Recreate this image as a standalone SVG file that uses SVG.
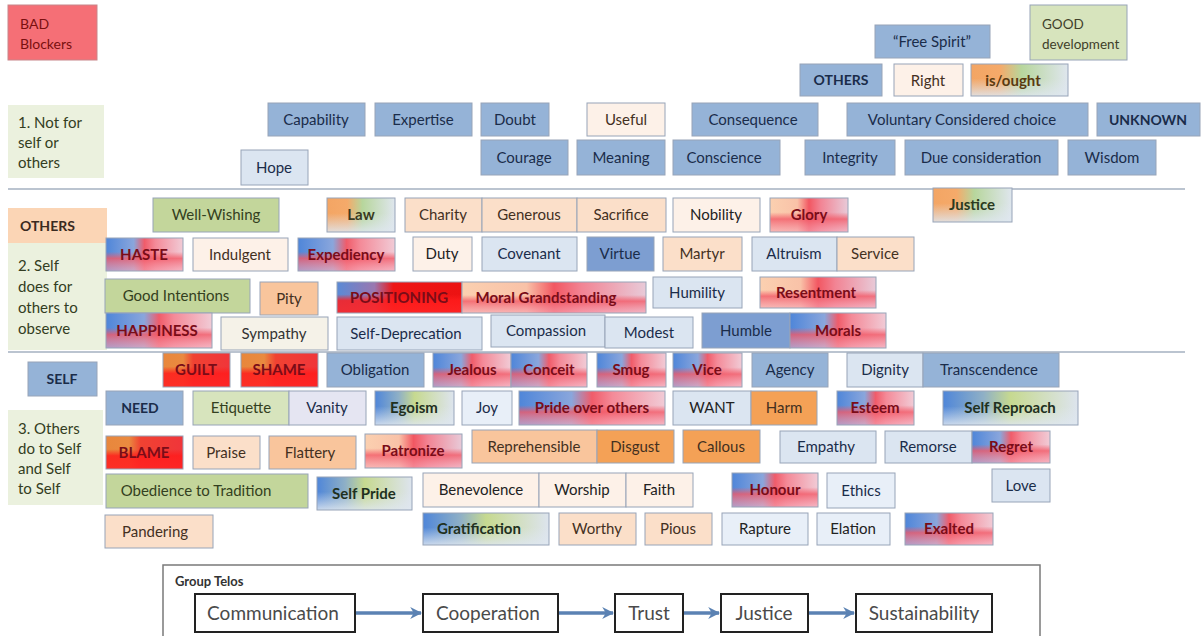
<svg xmlns="http://www.w3.org/2000/svg" width="1202" height="636" viewBox="0 0 1202 636">
<defs>
<style>
.n{stroke:#97a4b8;stroke-width:1}
.o{stroke:#97a4b8;stroke-width:1}
.t{font-family:Lato,"Liberation Sans",sans-serif;font-size:15px;text-anchor:middle;fill:#1a2c4a}
.tl{text-anchor:start}
.tb{font-weight:bold;fill:#7a0c18}
.tk{font-weight:bold}
.tp{fill:#43301f}
.blue{fill:#95b3d7}
.mblue{fill:#7d9ed1}
.lblue{fill:#dbe5f1}
.vlblue{fill:#e8eff8}
.peach{fill:#fbdfc9}
.lpeach{fill:#fdf1e8}
.mpeach{fill:#f9c59c}
.orange{fill:#f4a156}
.green{fill:#c3d69b}
.lgreen{fill:#d7e4bd}
.lbl{fill:#ebf1de;stroke:none}
.lav{fill:#e5e5f2}
.cream{fill:#f5f2e8}
.sep{stroke:#a5b0c0;stroke-width:1.5}
.tbox{fill:#ffffff;stroke:#222222;stroke-width:2}
.tt{font-family:Lato,"Liberation Sans",sans-serif;font-size:19px;text-anchor:middle;fill:#4a4a4a}
.arr{stroke:#5b82b3;stroke-width:3.5;fill:none}
</style>
<linearGradient id="gBR" x1="0" y1="0" x2="1" y2="0">
<stop offset="0" stop-color="#4f86d9"/><stop offset="0.36" stop-color="#8aa6dc"/><stop offset="0.5" stop-color="#f05c6a"/><stop offset="0.64" stop-color="#f48a98"/><stop offset="1" stop-color="#f1cbd6"/>
</linearGradient>
<linearGradient id="gOR" x1="0" y1="0" x2="1" y2="0">
<stop offset="0" stop-color="#e8873c"/><stop offset="0.3" stop-color="#ea8a40"/><stop offset="0.45" stop-color="#f04232"/><stop offset="1" stop-color="#f0353a"/>
</linearGradient>
<linearGradient id="gOG" x1="0" y1="0" x2="1" y2="0">
<stop offset="0" stop-color="#f3a564"/><stop offset="0.3" stop-color="#f5aa6a"/><stop offset="0.52" stop-color="#b7d69c"/><stop offset="1" stop-color="#dfe6ee"/>
</linearGradient>
<linearGradient id="gBG" x1="0" y1="0" x2="1" y2="0">
<stop offset="0" stop-color="#4f86d9"/><stop offset="0.3" stop-color="#8fb0c6"/><stop offset="0.5" stop-color="#c6d990"/><stop offset="1" stop-color="#dde4ee"/>
</linearGradient>
<linearGradient id="gPR" x1="0" y1="0" x2="1" y2="0">
<stop offset="0" stop-color="#fbd0b0"/><stop offset="0.35" stop-color="#f9c2a8"/><stop offset="0.5" stop-color="#f25762"/><stop offset="0.65" stop-color="#f28494"/><stop offset="1" stop-color="#e8cad8"/>
</linearGradient>
<linearGradient id="gPos" x1="0" y1="0" x2="1" y2="0">
<stop offset="0" stop-color="#5a8ad6"/><stop offset="0.3" stop-color="#9a78b0"/><stop offset="0.45" stop-color="#ee1616"/><stop offset="1" stop-color="#ec1212"/>
</linearGradient>
<linearGradient id="vR" x1="0" y1="0" x2="0" y2="1">
<stop offset="0" stop-color="#f25a68" stop-opacity="0"/><stop offset="0.42" stop-color="#f25a68" stop-opacity="0"/><stop offset="0.62" stop-color="#f25a68" stop-opacity="0.8"/><stop offset="1" stop-color="#f7a8b8" stop-opacity="0.6"/>
</linearGradient>
<linearGradient id="vRR" x1="0" y1="0" x2="0" y2="1">
<stop offset="0" stop-color="#ff1c1c" stop-opacity="0"/><stop offset="0.4" stop-color="#ff1c1c" stop-opacity="0"/><stop offset="0.6" stop-color="#ff1c1c" stop-opacity="0.85"/><stop offset="1" stop-color="#ff2424" stop-opacity="0.9"/>
</linearGradient>
<linearGradient id="vL" x1="0" y1="0" x2="0" y2="1">
<stop offset="0" stop-color="#dfe7f0" stop-opacity="0"/><stop offset="0.45" stop-color="#dfe7f0" stop-opacity="0"/><stop offset="1" stop-color="#dfe7f0" stop-opacity="0.85"/>
</linearGradient>
<marker id="ah" viewBox="0 0 10 10" refX="9" refY="5" markerWidth="12" markerHeight="12" markerUnits="userSpaceOnUse" orient="auto">
<path d="M0,0 L10,5 L0,10 L3,5 Z" fill="#5b82b3"/>
</marker>
</defs>
<rect x="0" y="0" width="1202" height="636" fill="#ffffff"/>

<g id="separators">
<line class="sep" x1="8" y1="189" x2="1185" y2="189"/>
<line class="sep" x1="8" y1="352" x2="1185" y2="352"/>
</g>

<!-- legend / labels -->
<g id="n-bad"><rect x="8" y="5" width="89" height="55" fill="#f56f76" stroke="#c8868a"/><text class="t tl" x="20" y="29" style="fill:#7a1010;font-size:14px">BAD</text><text class="t tl" x="20" y="49" style="fill:#7a1010;font-size:14px">Blockers</text></g>
<g id="n-good"><rect x="1030" y="5" width="97" height="55" class="lgreen n"/><text class="t tl" x="1042" y="29" style="fill:#40402a;font-size:13.5px">GOOD</text><text class="t tl" x="1042" y="49" style="fill:#40402a;font-size:13.5px">development</text></g>
<g id="n-label1"><rect x="8" y="105" width="96" height="73" class="lbl"/><text class="t tl" x="18" y="128" style="fill:#333d22">1. Not for</text><text class="t tl" x="18" y="148" style="fill:#333d22">self or</text><text class="t tl" x="18" y="168" style="fill:#333d22">others</text></g>
<g id="n-label2"><rect x="8" y="243" width="99" height="107" class="lbl"/><text class="t tl" x="18" y="271" style="fill:#333d22">2. Self</text><text class="t tl" x="18" y="292" style="fill:#333d22">does for</text><text class="t tl" x="18" y="313" style="fill:#333d22">others to</text><text class="t tl" x="18" y="334" style="fill:#333d22">observe</text></g>
<g id="n-label3"><rect x="8" y="410" width="95" height="95" class="lbl"/><text class="t tl" x="18" y="434" style="fill:#333d22">3. Others</text><text class="t tl" x="18" y="454" style="fill:#333d22">do to Self</text><text class="t tl" x="18" y="474" style="fill:#333d22">and Self</text><text class="t tl" x="18" y="494" style="fill:#333d22">to Self</text></g>
<g id="n-others-lbl"><rect x="8" y="208" width="99" height="35" fill="#fbd5b5" stroke="none"/><text class="t tl tk" x="20" y="231" style="fill:#3a2a20;font-size:14px">OTHERS</text></g>
<g id="n-self-lbl"><rect x="28" y="362" width="69" height="34" class="blue n"/><text class="t tk" x="62" y="384" style="font-size:14px">SELF</text></g>

<!-- section 1 -->
<g id="n-freespirit"><rect x="875" y="25" width="115" height="33" class="blue n"/><text class="t" x="932" y="47">“Free Spirit”</text></g>
<g id="n-others-top"><rect x="800" y="64" width="82" height="32" class="blue n"/><text class="t tk" x="841" y="85" style="font-size:14px">OTHERS</text></g>
<g id="n-right"><rect x="894" y="64" width="69" height="32" class="lpeach n"/><text class="t tp" x="928" y="86">Right</text></g>
<g id="n-isought"><rect x="971" y="64" width="97" height="32" fill="url(#gOG)"/><rect x="971" y="64" width="97" height="32" fill="url(#vL)" class="o"/><text class="t tk" x="1013" y="86" style="fill:#5a3a10">is/ought</text></g>
<g id="n-capability"><rect x="268" y="103" width="97" height="33" class="blue n"/><text class="t" x="316" y="125">Capability</text></g>
<g id="n-expertise"><rect x="375" y="103" width="97" height="33" class="blue n"/><text class="t" x="423" y="125">Expertise</text></g>
<g id="n-doubt"><rect x="481" y="103" width="68" height="33" class="blue n"/><text class="t" x="515" y="125">Doubt</text></g>
<g id="n-useful"><rect x="587" y="103" width="78" height="33" class="lpeach n"/><text class="t tp" x="626" y="125">Useful</text></g>
<g id="n-consequence"><rect x="692" y="103" width="126" height="33" class="blue n"/><text class="t" x="753" y="125">Consequence</text></g>
<g id="n-voluntary"><rect x="847" y="103" width="241" height="33" class="blue n"/><text class="t" x="962" y="125">Voluntary Considered choice</text></g>
<g id="n-unknown"><rect x="1097" y="103" width="103" height="33" class="blue n"/><text class="t tk" x="1148" y="125" style="font-size:14px">UNKNOWN</text></g>
<g id="n-hope"><rect x="241" y="150" width="67" height="35" class="lblue n"/><text class="t" x="274" y="173">Hope</text></g>
<g id="n-courage"><rect x="481" y="140" width="87" height="35" class="blue n"/><text class="t" x="524" y="163">Courage</text></g>
<g id="n-meaning"><rect x="577" y="140" width="88" height="35" class="blue n"/><text class="t" x="621" y="163">Meaning</text></g>
<g id="n-conscience"><rect x="673" y="140" width="107" height="35" class="blue n"/><text class="t" x="724" y="163">Conscience</text></g>
<g id="n-integrity"><rect x="805" y="140" width="90" height="35" class="blue n"/><text class="t" x="850" y="163">Integrity</text></g>
<g id="n-dueconsideration"><rect x="905" y="140" width="153" height="35" class="blue n"/><text class="t" x="981" y="163">Due consideration</text></g>
<g id="n-wisdom"><rect x="1068" y="140" width="88" height="35" class="blue n"/><text class="t" x="1112" y="163">Wisdom</text></g>

<!-- section 2 -->
<g id="n-justice-top"><rect x="933" y="188" width="79" height="34" fill="url(#gOG)"/><rect x="933" y="188" width="79" height="34" fill="url(#vL)" class="o"/><text class="t tk" x="972" y="210" style="fill:#2a3a20">Justice</text></g>
<g id="n-wellwishing"><rect x="153" y="198" width="126" height="34" class="green n"/><text class="t" x="216" y="220" style="fill:#334020">Well-Wishing</text></g>
<g id="n-law"><rect x="327" y="198" width="68" height="34" fill="url(#gOG)"/><rect x="327" y="198" width="68" height="34" fill="url(#vL)" class="o"/><text class="t tk" x="361" y="220" style="fill:#3a3a20">Law</text></g>
<g id="n-charity"><rect x="405" y="198" width="77" height="34" class="peach n"/><text class="t tp" x="443" y="220">Charity</text></g>
<g id="n-generous"><rect x="482" y="198" width="95" height="34" class="peach n"/><text class="t tp" x="529" y="220">Generous</text></g>
<g id="n-sacrifice"><rect x="577" y="198" width="89" height="34" class="peach n"/><text class="t tp" x="621" y="220">Sacrifice</text></g>
<g id="n-nobility"><rect x="673" y="198" width="87" height="34" class="lpeach n"/><text class="t" x="716" y="220" style="fill:#222">Nobility</text></g>
<g id="n-glory"><rect x="770" y="198" width="78" height="34" fill="url(#gPR)"/><rect x="770" y="198" width="78" height="34" fill="url(#vR)" class="o"/><text class="t tb" x="809" y="220">Glory</text></g>
<g id="n-haste"><rect x="106" y="238" width="77" height="33" fill="url(#gBR)"/><rect x="106" y="238" width="77" height="33" fill="url(#vR)" class="o"/><text class="t tb" x="144" y="260">HASTE</text></g>
<g id="n-indulgent"><rect x="193" y="238" width="95" height="33" class="lpeach n"/><text class="t tp" x="240" y="260">Indulgent</text></g>
<g id="n-expediency"><rect x="298" y="238" width="97" height="33" fill="url(#gBR)"/><rect x="298" y="238" width="97" height="33" fill="url(#vR)" class="o"/><text class="t tb" x="346" y="260">Expediency</text></g>
<g id="n-duty"><rect x="413" y="237" width="59" height="34" class="lpeach n"/><text class="t" x="442" y="259" style="fill:#222">Duty</text></g>
<g id="n-covenant"><rect x="482" y="237" width="95" height="34" class="lblue n"/><text class="t" x="529" y="259">Covenant</text></g>
<g id="n-virtue"><rect x="587" y="237" width="67" height="34" class="mblue n"/><text class="t" x="620" y="259">Virtue</text></g>
<g id="n-martyr"><rect x="663" y="237" width="79" height="34" class="peach n"/><text class="t tp" x="702" y="259">Martyr</text></g>
<g id="n-altruism"><rect x="752" y="237" width="85" height="34" class="lblue n"/><text class="t" x="794" y="259">Altruism</text></g>
<g id="n-service"><rect x="837" y="237" width="77" height="34" class="peach n"/><text class="t tp" x="875" y="259">Service</text></g>
<g id="n-goodintentions"><rect x="105" y="279" width="145" height="34" class="green n"/><text class="t" x="176" y="301" style="fill:#334020">Good Intentions</text></g>
<g id="n-pity"><rect x="260" y="282" width="58" height="33" class="mpeach n"/><text class="t tp" x="289" y="304">Pity</text></g>
<g id="n-positioning"><rect x="337" y="282" width="125" height="31" fill="url(#gPos)"/><rect x="337" y="282" width="125" height="31" fill="url(#vRR)" class="o"/><text class="t tb" x="399" y="303">POSITIONING</text></g>
<g id="n-moralgrandstanding"><rect x="462" y="282" width="184" height="31" fill="url(#gPR)"/><rect x="462" y="282" width="184" height="31" fill="url(#vR)" class="o"/><text class="t tb" x="546" y="303">Moral Grandstanding</text></g>
<g id="n-humility"><rect x="653" y="277" width="89" height="31" class="lblue n"/><text class="t" x="697" y="298">Humility</text></g>
<g id="n-resentment"><rect x="760" y="277" width="116" height="31" fill="url(#gPR)"/><rect x="760" y="277" width="116" height="31" fill="url(#vR)" class="o"/><text class="t tb" x="816" y="298">Resentment</text></g>
<g id="n-happiness"><rect x="106" y="313" width="106" height="35" fill="url(#gBR)"/><rect x="106" y="313" width="106" height="35" fill="url(#vR)" class="o"/><text class="t tb" x="157" y="336">HAPPINESS</text></g>
<g id="n-sympathy"><rect x="221" y="317" width="107" height="33" class="cream n"/><text class="t" x="274" y="339" style="fill:#333">Sympathy</text></g>
<g id="n-selfdeprecation"><rect x="337" y="317" width="145" height="33" class="lblue n"/><text class="t" x="406" y="339">Self-Deprecation</text></g>
<g id="n-compassion"><rect x="491" y="315" width="114" height="32" class="lblue n"/><text class="t" x="546" y="336">Compassion</text></g>
<g id="n-modest"><rect x="605" y="317" width="88" height="31" class="lblue n"/><text class="t" x="649" y="338">Modest</text></g>
<g id="n-humble"><rect x="702" y="313" width="88" height="35" class="mblue n"/><text class="t" x="746" y="336">Humble</text></g>
<g id="n-morals"><rect x="790" y="313" width="96" height="35" fill="url(#gBR)"/><rect x="790" y="313" width="96" height="35" fill="url(#vR)" class="o"/><text class="t tb" x="838" y="336">Morals</text></g>

<!-- section 3 -->
<g id="n-guilt"><rect x="163" y="353" width="67" height="34" fill="url(#gOR)"/><rect x="163" y="353" width="67" height="34" fill="url(#vRR)" class="o"/><text class="t tb" x="196" y="375">GUILT</text></g>
<g id="n-shame"><rect x="241" y="353" width="77" height="34" fill="url(#gOR)"/><rect x="241" y="353" width="77" height="34" fill="url(#vRR)" class="o"/><text class="t tb" x="279" y="375">SHAME</text></g>
<g id="n-obligation"><rect x="327" y="353" width="97" height="34" class="blue n"/><text class="t" x="375" y="375">Obligation</text></g>
<g id="n-jealous"><rect x="433" y="353" width="78" height="34" fill="url(#gBR)"/><rect x="433" y="353" width="78" height="34" fill="url(#vR)" class="o"/><text class="t tb" x="472" y="375">Jealous</text></g>
<g id="n-conceit"><rect x="511" y="353" width="76" height="34" fill="url(#gBR)"/><rect x="511" y="353" width="76" height="34" fill="url(#vR)" class="o"/><text class="t tb" x="549" y="375">Conceit</text></g>
<g id="n-smug"><rect x="597" y="353" width="69" height="34" fill="url(#gBR)"/><rect x="597" y="353" width="69" height="34" fill="url(#vR)" class="o"/><text class="t tb" x="631" y="375">Smug</text></g>
<g id="n-vice"><rect x="673" y="353" width="69" height="34" fill="url(#gBR)"/><rect x="673" y="353" width="69" height="34" fill="url(#vR)" class="o"/><text class="t tb" x="707" y="375">Vice</text></g>
<g id="n-agency"><rect x="752" y="353" width="76" height="34" class="blue n"/><text class="t" x="790" y="375">Agency</text></g>
<g id="n-dignity"><rect x="847" y="353" width="76" height="34" class="lblue n"/><text class="t" x="885" y="375">Dignity</text></g>
<g id="n-transcendence"><rect x="923" y="353" width="136" height="34" class="blue n"/><text class="t" x="989" y="375">Transcendence</text></g>
<g id="n-need"><rect x="106" y="391" width="77" height="34" class="blue n"/><text class="t tk" x="140" y="413" style="font-size:14px">NEED</text></g>
<g id="n-etiquette"><rect x="193" y="391" width="96" height="34" class="lgreen n"/><text class="t" x="241" y="413" style="fill:#334020">Etiquette</text></g>
<g id="n-vanity"><rect x="289" y="391" width="77" height="34" class="lav n"/><text class="t" x="327" y="413">Vanity</text></g>
<g id="n-egoism"><rect x="375" y="391" width="79" height="34" fill="url(#gBG)"/><rect x="375" y="391" width="79" height="34" fill="url(#vL)" class="o"/><text class="t tk" x="414" y="413" style="fill:#1f3020">Egoism</text></g>
<g id="n-joy"><rect x="462" y="391" width="50" height="34" class="vlblue n"/><text class="t" x="487" y="413">Joy</text></g>
<g id="n-prideoverothers"><rect x="519" y="391" width="146" height="34" fill="url(#gBR)"/><rect x="519" y="391" width="146" height="34" fill="url(#vR)" class="o"/><text class="t tb" x="592" y="413">Pride over others</text></g>
<g id="n-want"><rect x="673" y="391" width="78" height="34" class="lblue n"/><text class="t" x="712" y="413" style="fill:#222">WANT</text></g>
<g id="n-harm"><rect x="751" y="391" width="66" height="34" class="orange n"/><text class="t tp" x="784" y="413">Harm</text></g>
<g id="n-esteem"><rect x="837" y="391" width="77" height="34" fill="url(#gBR)"/><rect x="837" y="391" width="77" height="34" fill="url(#vR)" class="o"/><text class="t tb" x="875" y="413">Esteem</text></g>
<g id="n-selfreproach"><rect x="943" y="391" width="135" height="34" fill="url(#gBG)"/><rect x="943" y="391" width="135" height="34" fill="url(#vL)" class="o"/><text class="t tk" x="1010" y="413" style="fill:#1f3020">Self Reproach</text></g>
<g id="n-blame"><rect x="106" y="436" width="77" height="33" fill="url(#gOR)"/><rect x="106" y="436" width="77" height="33" fill="url(#vRR)" class="o"/><text class="t tb" x="144" y="458">BLAME</text></g>
<g id="n-praise"><rect x="193" y="436" width="67" height="33" class="peach n"/><text class="t tp" x="226" y="458">Praise</text></g>
<g id="n-flattery"><rect x="269" y="436" width="87" height="33" class="mpeach n"/><text class="t tp" x="310" y="458">Flattery</text></g>
<g id="n-patronize"><rect x="365" y="434" width="97" height="34" fill="url(#gPR)"/><rect x="365" y="434" width="97" height="34" fill="url(#vR)" class="o"/><text class="t tb" x="413" y="456">Patronize</text></g>
<g id="n-reprehensible"><rect x="472" y="430" width="125" height="33" class="mpeach n"/><text class="t tp" x="534" y="452">Reprehensible</text></g>
<g id="n-disgust"><rect x="597" y="430" width="77" height="33" class="orange n"/><text class="t tp" x="635" y="452">Disgust</text></g>
<g id="n-callous"><rect x="683" y="430" width="77" height="33" class="orange n"/><text class="t tp" x="721" y="452">Callous</text></g>
<g id="n-empathy"><rect x="780" y="431" width="96" height="32" class="lblue n"/><text class="t" x="826" y="452">Empathy</text></g>
<g id="n-remorse"><rect x="885" y="431" width="87" height="32" class="lblue n"/><text class="t" x="928" y="452">Remorse</text></g>
<g id="n-regret"><rect x="972" y="431" width="78" height="32" fill="url(#gBR)"/><rect x="972" y="431" width="78" height="32" fill="url(#vR)" class="o"/><text class="t tb" x="1011" y="452">Regret</text></g>
<g id="n-obedience"><rect x="106" y="474" width="202" height="34" class="green n"/><text class="t" x="196" y="496" style="fill:#334020">Obedience to Tradition</text></g>
<g id="n-selfpride"><rect x="317" y="477" width="95" height="33" fill="url(#gBG)"/><rect x="317" y="477" width="95" height="33" fill="url(#vL)" class="o"/><text class="t tk" x="364" y="499" style="fill:#1f3020">Self Pride</text></g>
<g id="n-benevolence"><rect x="423" y="473" width="116" height="34" class="lpeach n"/><text class="t" x="481" y="495" style="fill:#222">Benevolence</text></g>
<g id="n-worship"><rect x="539" y="473" width="87" height="34" class="lpeach n"/><text class="t" x="582" y="495" style="fill:#222">Worship</text></g>
<g id="n-faith"><rect x="626" y="473" width="67" height="34" class="lpeach n"/><text class="t" x="659" y="495" style="fill:#222">Faith</text></g>
<g id="n-honour"><rect x="732" y="473" width="86" height="34" fill="url(#gBR)"/><rect x="732" y="473" width="86" height="34" fill="url(#vR)" class="o"/><text class="t tb" x="775" y="495">Honour</text></g>
<g id="n-ethics"><rect x="827" y="473" width="68" height="35" class="vlblue n"/><text class="t" x="861" y="496">Ethics</text></g>
<g id="n-love"><rect x="992" y="469" width="58" height="33" class="lblue n"/><text class="t" x="1021" y="491">Love</text></g>
<g id="n-pandering"><rect x="105" y="515" width="108" height="33" class="peach n"/><text class="t tp" x="155" y="537">Pandering</text></g>
<g id="n-gratification"><rect x="423" y="513" width="126" height="32" fill="url(#gBG)"/><rect x="423" y="513" width="126" height="32" fill="url(#vL)" class="o"/><text class="t tk" x="479" y="534" style="fill:#1f3020">Gratification</text></g>
<g id="n-worthy"><rect x="559" y="513" width="77" height="32" class="peach n"/><text class="t tp" x="597" y="534">Worthy</text></g>
<g id="n-pious"><rect x="645" y="513" width="67" height="32" class="peach n"/><text class="t tp" x="678" y="534">Pious</text></g>
<g id="n-rapture"><rect x="722" y="513" width="86" height="32" class="vlblue n"/><text class="t" x="765" y="534" style="fill:#222">Rapture</text></g>
<g id="n-elation"><rect x="817" y="513" width="73" height="32" class="vlblue n"/><text class="t" x="853" y="534" style="fill:#222">Elation</text></g>
<g id="n-exalted"><rect x="905" y="513" width="88" height="32" fill="url(#gBR)"/><rect x="905" y="513" width="88" height="32" fill="url(#vR)" class="o"/><text class="t tb" x="949" y="534">Exalted</text></g>

<!-- Group Telos -->
<g id="n-grouptelos"><rect x="163" y="565" width="877" height="80" fill="none" stroke="#7a7a7a" stroke-width="1.5"/><text x="175" y="586" style="font-family:Lato,'Liberation Sans',sans-serif;font-size:13px;font-weight:bold;fill:#333">Group Telos</text></g>
<g id="n-communication"><rect x="195" y="594" width="160" height="38" class="tbox"/><text class="tt" x="273" y="620">Communication</text></g>
<g id="n-cooperation"><rect x="423" y="594" width="135" height="38" class="tbox"/><text class="tt" x="488" y="620">Cooperation</text></g>
<g id="n-trust"><rect x="615" y="594" width="68" height="38" class="tbox"/><text class="tt" x="649" y="620">Trust</text></g>
<g id="n-justice"><rect x="721" y="594" width="87" height="38" class="tbox"/><text class="tt" x="764" y="620">Justice</text></g>
<g id="n-sustainability"><rect x="856" y="594" width="136" height="38" class="tbox"/><text class="tt" x="924" y="620">Sustainability</text></g>

<g id="connectors">
<line class="arr" x1="356" y1="613" x2="421" y2="613" marker-end="url(#ah)"/>
<line class="arr" x1="559" y1="613" x2="613" y2="613" marker-end="url(#ah)"/>
<line class="arr" x1="684" y1="613" x2="719" y2="613" marker-end="url(#ah)"/>
<line class="arr" x1="809" y1="613" x2="854" y2="613" marker-end="url(#ah)"/>
</g>
</svg>
